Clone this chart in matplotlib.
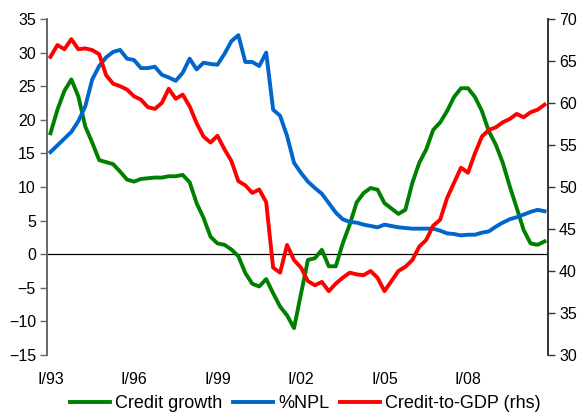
import matplotlib
matplotlib.use("Agg")
import matplotlib.pyplot as plt
import numpy as np

plt.rcParams['font.family'] = ['Liberation Sans', 'DejaVu Sans']

tick_labels = ["I/93", "I/96", "I/99", "I/02", "I/05", "I/08"]
tick_pos = [0, 12, 24, 36, 48, 60]

credit_growth = [18.0, 21.5, 24.3, 26.0, 23.5, 19.0, 16.6, 14.0, 13.7, 13.4,
                 12.3, 11.1, 10.8, 11.2, 11.3, 11.4, 11.4, 11.6, 11.6, 11.8,
                 10.7, 7.6, 5.4, 2.6, 1.6, 1.4, 0.7, -0.3, -2.8, -4.4,
                 -4.8, -3.7, -5.8, -7.8, -9.1, -11.0, -5.9, -0.85, -0.6, 0.65,
                 -1.8, -1.8, 1.6, 4.4, 7.7, 9.1, 9.85, 9.6, 7.6, 6.8,
                 6.0, 6.6, 10.6, 13.6, 15.6, 18.5, 19.6, 21.3, 23.4, 24.7,
                 24.7, 23.4, 21.3, 18.3, 16.3, 13.6, 10.1, 6.9, 3.6, 1.6,
                 1.4, 1.9]

npl = [15.2, 16.2, 17.2, 18.2, 19.8, 22.0, 26.0, 28.0, 29.3, 30.1,
       30.4, 29.1, 28.9, 27.7, 27.7, 27.9, 26.7, 26.3, 25.8, 27.0,
       29.1, 27.5, 28.5, 28.3, 28.2, 29.8, 31.7, 32.6, 28.6, 28.6,
       28.0, 30.0, 21.5, 20.6, 17.6, 13.6, 12.1, 10.8, 9.85, 9.0,
       7.6, 6.2, 5.2, 4.8, 4.7, 4.4, 4.2, 4.0, 4.4, 4.2,
       4.0, 3.9, 3.8, 3.8, 3.8, 3.8, 3.5, 3.1, 3.0, 2.8,
       2.9, 2.9, 3.2, 3.4, 4.1, 4.7, 5.2, 5.5, 5.9, 6.3,
       6.6, 6.4]

credit_gdp = [65.5, 66.9, 66.4, 67.6, 66.4, 66.5, 66.3, 65.8, 63.3, 62.3,
              62.0, 61.6, 60.8, 60.4, 59.5, 59.3, 60.0, 61.7, 60.5, 61.0,
              59.6, 57.6, 56.0, 55.3, 56.1, 54.5, 53.1, 50.7, 50.2, 49.3,
              49.7, 48.2, 40.4, 39.8, 43.1, 41.3, 40.4, 38.8, 38.3, 38.7,
              37.6, 38.5, 39.2, 39.8, 39.6, 39.5, 40.0, 39.2, 37.6, 38.8,
              40.0, 40.5, 41.3, 42.9, 43.7, 45.4, 46.1, 48.7, 50.5, 52.3,
              51.7, 54.0, 56.0, 56.8, 57.1, 57.7, 58.1, 58.7, 58.3, 58.9,
              59.2, 59.8]

x = np.arange(len(credit_growth))

fig = plt.figure(figsize=(5.79, 4.12), dpi=100)
ax = fig.add_axes([47/579, 1-355/412, (548-47)/579, (355-19)/412])
ax2 = ax.twinx()

green = '#008000'
blue = '#0066cc'
red = '#ff0000'
lw = 2.8

l1, = ax.plot(x, credit_growth, color=green, lw=lw, label='Credit growth', solid_joinstyle='round')
l2, = ax.plot(x, npl, color=blue, lw=lw, label='%NPL', solid_joinstyle='round')
l3, = ax2.plot(x, credit_gdp, color=red, lw=lw, label='Credit-to-GDP (rhs)', solid_joinstyle='round')

ax.axhline(0, color='black', lw=0.9, zorder=1)

ax.set_xlim(-0.5, 71.5)
ax.set_ylim(-15, 35)
ax.set_yticks(np.arange(-15, 36, 5))
ax2.set_ylim(30, 70)
ax2.set_yticks(np.arange(30, 71, 5))

ax.set_xticks(tick_pos)
ax.set_xticklabels(tick_labels)

for a in (ax, ax2):
    a.spines['top'].set_visible(False)
    a.spines['bottom'].set_visible(False)
    a.spines['left'].set_color('#666666')
    a.spines['right'].set_color('#333333')
    a.spines['left'].set_linewidth(1.2)
    a.spines['right'].set_linewidth(1.2)

tfs = 11.5
ax.tick_params(axis='x', length=0, labelsize=tfs, pad=12)
ax.tick_params(axis='y', length=5, width=1, color='#666666', labelsize=tfs, pad=3)
ax2.tick_params(axis='y', length=5, width=1, color='#333333', labelsize=tfs, pad=3)

fig.legend(handles=[l1, l2, l3], loc='center', bbox_to_anchor=(305.5/579, 1-404/412),
           ncol=3, frameon=False, fontsize=13, handlelength=2.2,
           columnspacing=0.6, handletextpad=0.3, borderpad=0)

fig.savefig('out.png', dpi=100)
